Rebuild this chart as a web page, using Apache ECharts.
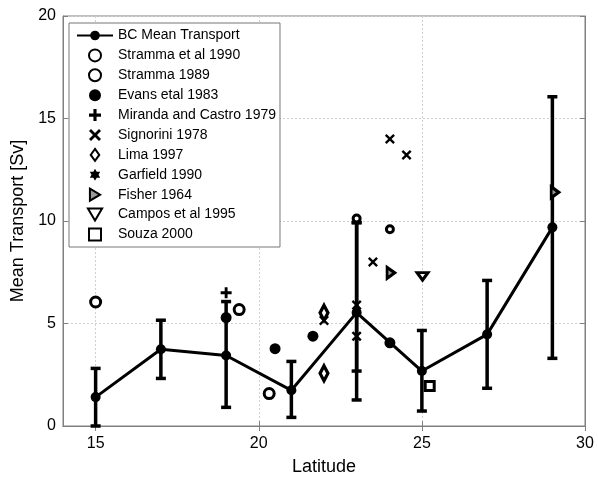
<!DOCTYPE html>
<html>
<head>
<meta charset="utf-8">
<script src="https://cdn.jsdelivr.net/npm/echarts@6/dist/echarts.min.js"></script>
<style>html,body{margin:0;padding:0;background:#fff}#c{width:598px;height:481px}</style>
</head>
<body>
<div id="c"></div>
<script>
// ---- data ----
const latitudes = [15, 17, 19, 21, 23, 25, 27, 29];
const bcMean   = [1.41, 3.74, 3.44, 1.74, 5.53, 2.68, 4.47, 9.69];
const errLow   = [0.00, 2.32, 0.91, 0.42, 1.27, 0.73, 1.84, 3.30];
const errHigh  = [2.81, 5.16, 6.07, 3.15, 9.92, 4.66, 7.10, 16.06];
const extraErrLat = [23];
const extraErrLow = [2.68];
const extraErrHigh = [9.92];

const stramma1990 = [[15, 6.05], [19.4, 5.68], [20.32, 1.58]];
const stramma1989 = [[23, 10.12], [24.02, 9.6]];
const evans1983 = [[19, 5.29], [20.5, 3.77], [21.66, 4.38], [24.02, 4.06]];
const miranda1979 = [[19, 6.5]];
const signorini1978 = [[22, 5.15], [23, 5.9], [23, 4.38], [23.5, 8.0], [24.02, 14.0], [24.53, 13.22]];
const lima1997 = [[22, 5.52], [22, 2.57]];
const garfield1990 = [];
const fisher1964 = [[24.05, 7.47], [29.08, 11.4]];
const campos1995 = [[25.02, 7.3]];
const souza2000 = [[25.24, 1.95]];

const xTicks = [15, 20, 25, 30];
const yTicks = [0, 5, 10, 15, 20];

// ---- chart ----
const FONT = "'Liberation Sans', Arial, Helvetica, sans-serif";
const chart = echarts.init(document.getElementById('c'), null, {renderer: 'canvas'});

const errData = latitudes.map((x, i) => [x, errLow[i], errHigh[i]])
  .concat(extraErrLat.map((x, i) => [x, extraErrLow[i], extraErrHigh[i]]));

const hollow = (fill, bw) => ({color: fill || '#fff', borderColor: '#000', borderWidth: bw || 3, opacity: 1});
const solid = {color: '#000', opacity: 1};
const PLUS = 'path://M-1.3,-5H1.3V-1.3H5V1.3H1.3V5H-1.3V1.3H-5V-1.3H-1.3Z';
const CROSS = 'path://M-3.6,-5.4L0,-1.8L3.6,-5.4L5.4,-3.6L1.8,0L5.4,3.6L3.6,5.4L0,1.8L-3.6,5.4L-5.4,3.6L-1.8,0L-5.4,-3.6Z';
const DIAM = 'path://M0,-7L5,0L0,7L-5,0Z';
const RTRI = 'path://M0,0L11,6.5L0,13Z';
const DTRI = 'path://M0,0L13,0L6.5,11Z';
const SQR = 'path://M0,0H10V10H0Z';
const HEX = 'path://M0,-6L1.7,-3L5.2,-3L3.5,0L5.2,3L1.7,3L0,6L-1.7,3L-5.2,3L-3.5,0L-5.2,-3L-1.7,-3Z';

const scatter = (name, data, symbol, size, style) => ({
  name, type: 'scatter', data, symbol, symbolSize: size, symbolKeepAspect: true,
  itemStyle: style, z: 5, clip: false, emphasis: {disabled: true}
});

const option = {
  animation: false,
  backgroundColor: '#fff',
  textStyle: {fontFamily: FONT},
  grid: {left: 63, right: 13, top: 16, bottom: 54, show: true, borderColor: '#808080', borderWidth: 1, backgroundColor: 'transparent'},
  legend: {
    orient: 'vertical', left: 69, top: 23,
    backgroundColor: '#fff', borderColor: '#777', borderWidth: 1,
    padding: [5, 4, 5, 7], itemGap: 4.9, itemWidth: 36, itemHeight: 12,
    symbolKeepAspect: true,
    textStyle: {fontFamily: FONT, fontSize: 14, lineHeight: 15, color: '#000'},
    data: ['BC Mean Transport', 'Stramma et al 1990', 'Stramma 1989', 'Evans etal 1983',
      'Miranda and Castro 1979', 'Signorini 1978', 'Lima 1997', 'Garfield 1990',
      'Fisher 1964', 'Campos et al 1995', 'Souza 2000']
  },
  xAxis: [{
    type: 'value', min: 14, max: 30, position: 'bottom',
    name: 'Latitude', nameLocation: 'middle', nameGap: 32,
    nameTextStyle: {fontFamily: FONT, fontSize: 18, color: '#000'},
    axisLine: {show: true, lineStyle: {color: '#808080'}},
    axisTick: {show: true, inside: true, length: 5, customValues: xTicks, lineStyle: {color: '#808080'}},
    axisLabel: {customValues: xTicks, fontFamily: FONT, fontSize: 16, color: '#000', margin: 10},
    splitLine: {show: false}
  }, {
    type: 'value', min: 14, max: 30, position: 'top',
    axisLine: {show: true, lineStyle: {color: '#808080'}},
    axisTick: {show: true, inside: true, length: 5, customValues: xTicks, lineStyle: {color: '#808080'}},
    axisLabel: {show: false}, splitLine: {show: false}
  }],
  yAxis: [{
    type: 'value', min: 0, max: 20, interval: 5, position: 'left',
    name: 'Mean Transport [Sv]', nameLocation: 'middle', nameGap: 28,
    nameTextStyle: {fontFamily: FONT, fontSize: 18, color: '#000'},
    axisLine: {show: true, lineStyle: {color: '#808080'}},
    axisTick: {show: true, inside: true, length: 5, lineStyle: {color: '#808080'}},
    axisLabel: {fontFamily: FONT, fontSize: 16, color: '#000', margin: 7},
    splitLine: {show: true, lineStyle: {color: '#d0d0d0', type: [2, 2], width: 1}}
  }, {
    type: 'value', min: 0, max: 20, interval: 5, position: 'right',
    axisLine: {show: true, lineStyle: {color: '#808080'}},
    axisTick: {show: true, inside: true, length: 5, lineStyle: {color: '#808080'}},
    axisLabel: {show: false}, splitLine: {show: false}
  }],
  series: [
    {
      name: 'grid', type: 'scatter', data: [], z: 0, zlevel: 0, silent: true,
      markLine: {
        silent: true, symbol: 'none', label: {show: false}, z: 0,
        lineStyle: {color: '#d0d0d0', type: [2, 2], width: 1},
        emphasis: {disabled: true},
        data: xTicks.slice(0, 3).map(v => ({xAxis: v}))
      }
    },
    {
      name: 'errorbars', type: 'custom', data: errData, z: 3, clip: false,
      renderItem: function (params, api) {
        const x = api.value(0);
        const lo = api.coord([x, api.value(1)]);
        const hi = api.coord([x, api.value(2)]);
        const w = 5;
        const st = {stroke: '#000', lineWidth: 3.5, fill: 'none'};
        return {type: 'group', children: [
          {type: 'line', shape: {x1: lo[0], y1: lo[1], x2: hi[0], y2: hi[1]}, style: st},
          {type: 'line', shape: {x1: lo[0] - w, y1: lo[1], x2: lo[0] + w, y2: lo[1]}, style: st},
          {type: 'line', shape: {x1: hi[0] - w, y1: hi[1], x2: hi[0] + w, y2: hi[1]}, style: st}
        ]};
      }
    },
    {
      name: 'BC Mean Transport', type: 'line', z: 4,
      data: latitudes.map((x, i) => [x, bcMean[i]]),
      symbol: 'circle', symbolSize: 10, showSymbol: true,
      lineStyle: {color: '#000', width: 3},
      itemStyle: {color: '#000', opacity: 1},
      emphasis: {disabled: true}
    },
    scatter('Stramma et al 1990', stramma1990, 'circle', 10, hollow()),
    scatter('Stramma 1989', stramma1989, 'circle', 7, hollow()),
    scatter('Evans etal 1983', evans1983, 'circle', 11, solid),
    scatter('Miranda and Castro 1979', miranda1979, PLUS, 11, solid),
    scatter('Signorini 1978', signorini1978, CROSS, 10, solid),
    scatter('Lima 1997', lima1997, DIAM, [11, 15], hollow('#fff', 3.5)),
    scatter('Garfield 1990', garfield1990, HEX, 11, solid),
    scatter('Fisher 1964', fisher1964, RTRI, [9, 11], hollow('#999')),
    scatter('Campos et al 1995', campos1995, DTRI, [11, 9], hollow()),
    scatter('Souza 2000', souza2000, SQR, 9, hollow())
  ]
};
chart.setOption(option);
</script>
</body>
</html>
